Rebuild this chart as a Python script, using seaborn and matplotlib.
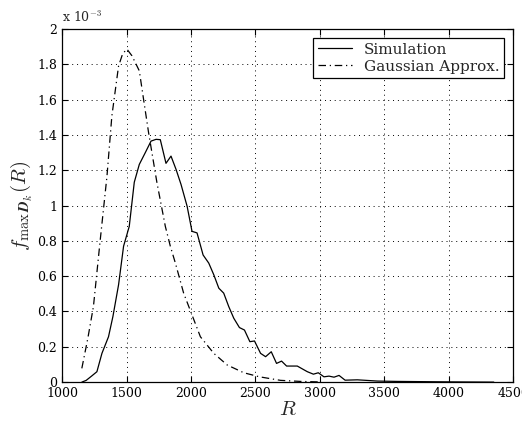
import numpy as np
import pandas as pd
import matplotlib
matplotlib.use("Agg")
import matplotlib.pyplot as plt
import seaborn as sns
from matplotlib.ticker import MultipleLocator, FuncFormatter

# simulated pdf (values in units of 1e-3)
sim_r = [1153, 1187, 1230, 1270, 1309, 1360, 1394, 1438, 1477, 1521, 1560, 1599,
         1645, 1690, 1729, 1762, 1806, 1845, 1884, 1923, 1970, 2008, 2047, 2094,
         2138, 2177, 2216, 2254, 2293, 2332, 2376, 2415, 2457, 2493, 2540, 2579,
         2623, 2664, 2703, 2742, 2825, 2903, 2950, 2988, 3032, 3071, 3110, 3149,
         3196, 3291, 3447, 3600, 3750, 3900, 4100, 4350]
sim_f = [0.0, 0.01, 0.035, 0.059, 0.163, 0.257, 0.371, 0.551, 0.77, 0.882, 1.132, 1.233,
         1.299, 1.365, 1.375, 1.373, 1.239, 1.28, 1.205, 1.119, 0.996, 0.854, 0.845, 0.72,
         0.674, 0.608, 0.532, 0.504, 0.428, 0.362, 0.309, 0.295, 0.229, 0.233, 0.163, 0.144,
         0.172, 0.106, 0.119, 0.091, 0.091, 0.059, 0.045, 0.053, 0.03, 0.034, 0.028, 0.038,
         0.011, 0.013, 0.006, 0.004, 0.003, 0.002, 0.001, 0.0]

# gaussian approximation
gau_r = [1153, 1200, 1243, 1295, 1348, 1386, 1438, 1470, 1503, 1542, 1599, 1632,
         1671, 1736, 1801, 1840, 1879, 1943, 2003, 2073, 2177, 2281, 2410, 2532,
         2695, 2850, 3000]
gau_f = [0.078, 0.25, 0.428, 0.8, 1.166, 1.507, 1.79, 1.86, 1.886, 1.848, 1.763, 1.602,
         1.413, 1.129, 0.882, 0.769, 0.674, 0.504, 0.39, 0.257, 0.163, 0.097, 0.053, 0.03,
         0.01, 0.004, 0.001]

sim = pd.DataFrame({"R": sim_r, "f": sim_f})
gau = pd.DataFrame({"R": gau_r, "f": gau_f})

sns.set_style("ticks")
plt.rcParams["font.family"] = ["DejaVu Serif"]
plt.rcParams["mathtext.fontset"] = "cm"

fig = plt.figure(figsize=(5.22, 4.26), dpi=100)
ax = fig.add_axes([0.119, 0.103, 0.864, 0.829])

sns.lineplot(data=sim, x="R", y="f", color="black", lw=0.9, label="Simulation", ax=ax)
sns.lineplot(data=gau, x="R", y="f", color="black", lw=0.9, linestyle=(0, (6, 3, 1, 3)),
             label="Gaussian Approx.", ax=ax)

ax.set_xlim(1000, 4500)
ax.set_ylim(0, 2)
ax.xaxis.set_major_locator(MultipleLocator(500))
ax.yaxis.set_major_locator(MultipleLocator(0.2))
ax.yaxis.set_major_formatter(FuncFormatter(lambda v, p: "%g" % round(v, 1)))
ax.tick_params(direction="in", top=True, right=True, length=4, width=0.8,
               labelsize=9, colors="black")
ax.grid(True, color="black", linestyle=(0, (1, 4)), lw=0.7)
for s in ax.spines.values():
    s.set_color("black")
    s.set_linewidth(0.9)

ax.set_xlabel("$R$", fontsize=15, labelpad=0)
ax.set_ylabel(r"$f_{\max\,\boldsymbol{D}_k}(R)$", fontsize=15, labelpad=2)
ax.text(0.0, 1.01, r"x 10$^{-3}$", transform=ax.transAxes, fontsize=9, ha="left", va="bottom")

leg = ax.legend(loc="upper right", fontsize=11, frameon=True, fancybox=False,
                edgecolor="black", framealpha=1, handlelength=2.2,
                borderaxespad=0.6, borderpad=0.3, labelspacing=0.2)
leg.get_frame().set_linewidth(0.9)

fig.savefig("out.png", dpi=100)
